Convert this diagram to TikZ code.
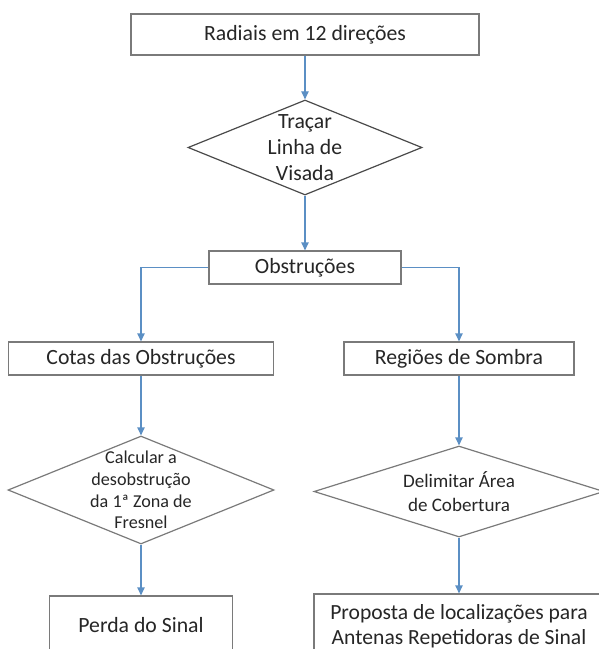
\documentclass[tikz,border=0pt]{standalone}
\usepackage{fontspec}
\setmainfont{Carlito}
\usepackage{xcolor}
\definecolor{boxgray}{HTML}{7A7A7A}
\definecolor{diagray}{HTML}{4A4A4A}
\definecolor{flowblue}{HTML}{5B8FC4}
\definecolor{textdark}{HTML}{262626}
\usepackage{tikz}
\usetikzlibrary{arrows.meta, positioning, shapes.geometric}

\tikzset{
  procbox/.style={draw=boxgray, line width=0.9pt, fill=white, text=textdark,
                  inner sep=0pt, align=center, font=\fontsize{16.3}{19.6}\selectfont},
  decision/.style={diamond, draw=boxgray, line width=0.9pt, fill=white, inner sep=0pt},
  dectext/.style={text=textdark, align=center, inner sep=0pt},
  flow/.style={draw=flowblue, line width=0.9pt, -{Triangle[length=6pt,width=5.5pt]}},
}

\begin{document}
\begin{tikzpicture}[x=0.75pt, y=-0.75pt]
    \useasboundingbox (0,0) rectangle (599,649);
    \clip (0,0) rectangle (599,649);
    % main column
    \node[procbox, minimum width=261pt, minimum height=30.75pt] (radiais) at (305,34.5)
          {Radiais em 12 direções};
    \node[decision, draw=diagray, minimum width=175.5pt, minimum height=71.25pt] (tracar) at (305,147.5) {};
    \node[dectext, font=\fontsize{16.3}{19.6}\selectfont] (tracartxt) at (tracar)
          {Traçar\\Linha de\\Visada};
    \node[procbox, minimum width=144pt, minimum height=24.75pt] (obstr) at (305,267.5)
          {Obstruções};
    % left branch
    \node[procbox, minimum width=198.75pt, minimum height=24.75pt] (cotas) at (141,358.5)
          {Cotas das Obstruções};
    \node[decision, minimum width=199.5pt, minimum height=81pt] (calc) at (141,490) {};
    \node[dectext, font=\fontsize{13.6}{16.3}\selectfont] (calctxt) at (calc)
          {Calcular a\\desobstrução\\da 1ª Zona de\\Fresnel};
    \node[procbox, minimum width=137.25pt, minimum height=43.5pt] (perda) at (141,625)
          {Perda do Sinal};
    % right branch
    \node[procbox, minimum width=172.5pt, minimum height=24.75pt] (regioes) at (459,358.5)
          {Regiões de Sombra};
    \node[decision, minimum width=217.5pt, minimum height=68.25pt] (delim) at (459,491.5) {};
    \node[dectext, font=\fontsize{14.3}{17.8}\selectfont] (delimtxt) at (delim)
          {Delimitar Área\\de Cobertura};
    \node[procbox, minimum width=217.5pt, minimum height=48pt,
          font=\fontsize{16.2}{18.8}\selectfont] (proposta) at (459,626)
          {Proposta de localizações para\\Antenas Repetidoras de Sinal};
    % connectors
    \draw[flow] (radiais) -- (tracar);
    \draw[flow] (tracar) -- (obstr);
    \draw[flow] (obstr.west) -| (cotas);
    \draw[flow] (obstr.east) -| (regioes);
    \draw[flow] (cotas) -- (calc);
    \draw[flow] (calc) -- (perda);
    \draw[flow] (regioes) -- (delim);
    \draw[flow] (delim) -- (proposta);
\end{tikzpicture}
\end{document}
